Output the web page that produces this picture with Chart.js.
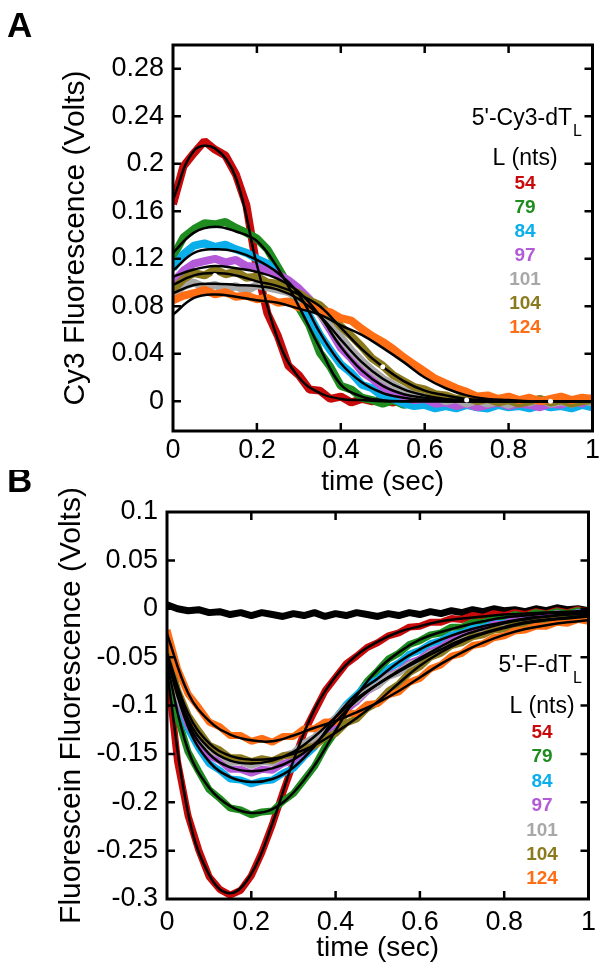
<!DOCTYPE html>
<html>
<head>
<meta charset="utf-8">
<script src="https://cdn.jsdelivr.net/npm/chart.js@4.4.0/dist/chart.umd.min.js"></script>
<style>
  body { margin: 0; background: #fff; }
  .panel { position: absolute; left: 0; width: 603px; }
  #panelA { top: 0; height: 500px; }
  #panelB { top: 470px; height: 508px; }
</style>
</head>
<body>
<div class="panel" id="panelA"><canvas id="chartA"></canvas></div>
<div class="panel" id="panelB"><canvas id="chartB"></canvas></div>
<script>
// time axes (sec)
const tData = [0, 0.025, 0.05, 0.075, 0.1, 0.125, 0.15, 0.175, 0.2, 0.225, 0.25, 0.275, 0.3, 0.325, 0.35, 0.375, 0.4, 0.425, 0.45, 0.475, 0.5,
  0.525, 0.55, 0.575, 0.6, 0.625, 0.65, 0.675, 0.7, 0.725, 0.75, 0.775, 0.8, 0.825, 0.85, 0.875, 0.9, 0.925, 0.95, 0.975, 1];
const tFit = [0, 0.05, 0.1, 0.15, 0.2, 0.25, 0.3, 0.35, 0.4, 0.45, 0.5, 0.55, 0.6, 0.65, 0.7, 0.75, 0.8, 0.85, 0.9, 0.95, 1];

const lengths = ['54', '79', '84', '97', '101', '104', '124'];
const colors = ['#c80a0a', '#1e8c1e', '#0aaeea', '#b45ad8', '#a8a8a8', '#8c7a1e', '#ff6e14'];

// panel A: 5'-Cy3-dT(L), measured traces
const cy3_54 = [0.166, 0.198, 0.209, 0.219, 0.212, 0.207, 0.191, 0.165, 0.112, 0.074, 0.055, 0.030, 0.022, 0.010, 0.009, 0.002, 0.004, -0.001, 0.002, 0.000, 0.001,
  -0.001, 0.002, 0.000, -0.002, 0.001, 0.000, -0.001, 0.002, 0.000, -0.001, 0.001, 0.000, -0.002, 0.001, 0.000, 0.001, -0.001, 0.000, 0.001, -0.001];
const cy3_79 = [0.122, 0.138, 0.145, 0.150, 0.149, 0.151, 0.146, 0.142, 0.137, 0.128, 0.113, 0.098, 0.079, 0.064, 0.041, 0.029, 0.013, 0.010, 0.003, 0.001, -0.002,
  0.001, -0.003, 0.000, -0.002, -0.004, 0.001, -0.003, -0.001, 0.000, -0.003, -0.001, -0.002, 0.000, -0.003, -0.001, 0.001, -0.002, 0.000, -0.002, -0.001];
const cy3_84 = [0.112, 0.124, 0.131, 0.133, 0.130, 0.132, 0.128, 0.125, 0.120, 0.116, 0.106, 0.100, 0.088, 0.072, 0.056, 0.043, 0.031, 0.024, 0.014, 0.011, 0.004,
  0.002, -0.002, -0.004, -0.003, -0.006, -0.004, -0.006, -0.003, -0.005, -0.006, -0.003, -0.005, -0.004, -0.006, -0.003, -0.005, -0.004, -0.006, -0.003, -0.005];
const cy3_97 = [0.100, 0.110, 0.116, 0.118, 0.120, 0.117, 0.119, 0.114, 0.113, 0.110, 0.107, 0.102, 0.095, 0.086, 0.074, 0.060, 0.045, 0.036, 0.025, 0.019, 0.012,
  0.008, 0.004, 0.001, 0.002, -0.002, -0.001, -0.004, -0.002, -0.005, -0.003, -0.001, -0.004, -0.002, -0.003, -0.005, -0.002, -0.003, 0.001, -0.002, 0.003];
const cy3_101 = [0.090, 0.097, 0.100, 0.096, 0.098, 0.094, 0.097, 0.093, 0.098, 0.096, 0.094, 0.092, 0.087, 0.081, 0.074, 0.063, 0.054, 0.043, 0.034, 0.026, 0.019,
  0.014, 0.009, 0.006, 0.003, 0.004, 0.000, 0.002, -0.002, 0.001, -0.002, 0.000, -0.003, 0.001, -0.001, 0.002, -0.002, 0.000, -0.002, 0.001, -0.001];
const cy3_104 = [0.094, 0.103, 0.108, 0.106, 0.111, 0.107, 0.109, 0.104, 0.105, 0.100, 0.099, 0.094, 0.091, 0.085, 0.081, 0.073, 0.063, 0.055, 0.046, 0.036, 0.030,
  0.022, 0.017, 0.012, 0.010, 0.006, 0.005, 0.002, 0.003, 0.000, 0.002, -0.001, 0.001, -0.002, 0.000, 0.002, -0.001, 0.001, -0.002, 0.000, 0.001];
const cy3_124 = [0.085, 0.089, 0.091, 0.094, 0.090, 0.092, 0.088, 0.089, 0.086, 0.087, 0.083, 0.084, 0.079, 0.081, 0.076, 0.075, 0.070, 0.068, 0.061, 0.055, 0.050,
  0.044, 0.037, 0.031, 0.025, 0.019, 0.015, 0.011, 0.008, 0.004, 0.005, 0.002, 0.004, 0.001, 0.003, 0.000, 0.002, 0.004, 0.001, 0.003, 0.002];

// panel A fits
const cy3Fit_54 = [0.170, 0.211, 0.213, 0.188, 0.115, 0.052, 0.020, 0.007, 0.002, 0.001, 0, 0, 0, 0, 0, 0, 0, 0, 0, 0, 0];
const cy3Fit_79 = [0.125, 0.142, 0.147, 0.143, 0.135, 0.112, 0.080, 0.045, 0.014, 0.004, 0.001, 0, 0, 0, 0, 0, 0, 0, 0, 0, 0];
const cy3Fit_84 = [0.110, 0.125, 0.128, 0.126, 0.119, 0.108, 0.090, 0.058, 0.032, 0.016, 0.007, 0.003, 0.001, 0, 0, 0, 0, 0, 0, 0, 0];
const cy3Fit_97 = [0.105, 0.111, 0.114, 0.112, 0.109, 0.103, 0.092, 0.072, 0.046, 0.026, 0.013, 0.006, 0.003, 0.001, 0, 0, 0, 0, 0, 0, 0];
const cy3Fit_101 = [0.091, 0.098, 0.099, 0.098, 0.097, 0.094, 0.086, 0.072, 0.052, 0.033, 0.019, 0.010, 0.005, 0.002, 0.001, 0, 0, 0, 0, 0, 0];
const cy3Fit_104 = [0.098, 0.106, 0.108, 0.106, 0.101, 0.097, 0.090, 0.080, 0.062, 0.044, 0.029, 0.017, 0.009, 0.005, 0.002, 0.001, 0, 0, 0, 0, 0];
const cy3Fit_124 = [0.073, 0.087, 0.090, 0.088, 0.085, 0.083, 0.078, 0.073, 0.064, 0.056, 0.045, 0.033, 0.020, 0.011, 0.005, 0.002, 0.001, 0, 0, 0, 0];

// white markers on the 104 fit
const markT = [0.1, 0.5, 0.7, 0.9];
const markV = [0.106, 0.029, 0.001, 0.000];

// panel B: 5'-F-dT(L), measured traces
const fl_54 = [-0.058, -0.158, -0.214, -0.249, -0.277, -0.290, -0.296, -0.291, -0.276, -0.252, -0.223, -0.190, -0.159, -0.128, -0.106, -0.085, -0.071, -0.057, -0.049, -0.040, -0.035,
  -0.028, -0.025, -0.019, -0.018, -0.014, -0.014, -0.010, -0.011, -0.007, -0.009, -0.005, -0.007, -0.004, -0.006, -0.003, -0.005, -0.002, -0.004, -0.001, -0.003];
const fl_79 = [-0.052, -0.112, -0.148, -0.168, -0.187, -0.196, -0.206, -0.208, -0.213, -0.210, -0.209, -0.199, -0.191, -0.177, -0.163, -0.143, -0.127, -0.107, -0.091, -0.075, -0.064,
  -0.052, -0.046, -0.037, -0.033, -0.027, -0.025, -0.019, -0.019, -0.014, -0.014, -0.010, -0.010, -0.006, -0.008, -0.004, -0.006, -0.003, -0.005, -0.002, -0.004];
const fl_84 = [-0.046, -0.095, -0.124, -0.144, -0.160, -0.167, -0.176, -0.177, -0.181, -0.178, -0.177, -0.170, -0.165, -0.153, -0.143, -0.126, -0.113, -0.099, -0.089, -0.078, -0.073,
  -0.062, -0.056, -0.047, -0.043, -0.036, -0.033, -0.027, -0.025, -0.020, -0.019, -0.015, -0.015, -0.011, -0.011, -0.008, -0.009, -0.006, -0.007, -0.004, -0.006];
const fl_97 = [-0.044, -0.091, -0.120, -0.137, -0.152, -0.157, -0.166, -0.166, -0.170, -0.166, -0.167, -0.160, -0.157, -0.147, -0.141, -0.128, -0.118, -0.104, -0.096, -0.085, -0.079,
  -0.069, -0.065, -0.056, -0.052, -0.044, -0.040, -0.032, -0.029, -0.023, -0.022, -0.016, -0.016, -0.011, -0.012, -0.008, -0.009, -0.005, -0.007, -0.004, -0.006];
const fl_101 = [-0.042, -0.089, -0.116, -0.131, -0.146, -0.150, -0.159, -0.158, -0.162, -0.158, -0.159, -0.152, -0.149, -0.139, -0.133, -0.121, -0.113, -0.101, -0.094, -0.084, -0.079,
  -0.070, -0.066, -0.058, -0.054, -0.046, -0.043, -0.036, -0.033, -0.027, -0.026, -0.021, -0.020, -0.015, -0.015, -0.011, -0.012, -0.008, -0.010, -0.006, -0.008];
const fl_104 = [-0.040, -0.084, -0.110, -0.126, -0.141, -0.146, -0.154, -0.154, -0.158, -0.155, -0.157, -0.152, -0.151, -0.144, -0.142, -0.133, -0.129, -0.118, -0.114, -0.103, -0.097,
  -0.085, -0.078, -0.066, -0.060, -0.050, -0.046, -0.038, -0.035, -0.029, -0.027, -0.022, -0.021, -0.016, -0.016, -0.012, -0.013, -0.009, -0.011, -0.007, -0.009];
const fl_124 = [-0.022, -0.062, -0.088, -0.102, -0.117, -0.122, -0.131, -0.131, -0.137, -0.134, -0.138, -0.132, -0.132, -0.124, -0.124, -0.117, -0.117, -0.109, -0.108, -0.099, -0.098,
  -0.089, -0.086, -0.076, -0.072, -0.062, -0.058, -0.049, -0.046, -0.038, -0.036, -0.030, -0.028, -0.023, -0.022, -0.018, -0.018, -0.014, -0.015, -0.011, -0.013];
const fl_control = [0.004, 0.000, -0.002, -0.001, -0.004, -0.003, -0.006, -0.004, -0.007, -0.004, -0.006, -0.008, -0.005, -0.007, -0.004, -0.008, -0.005, -0.007, -0.004, -0.006, -0.008,
  -0.005, -0.007, -0.004, -0.006, -0.003, -0.005, -0.002, -0.004, -0.001, -0.003, 0.000, -0.002, -0.001, -0.003, 0.000, -0.002, 0.001, -0.001, 0.000, -0.002];

// panel B fits
const flFit_54 = [-0.065, -0.211, -0.275, -0.294, -0.274, -0.222, -0.157, -0.104, -0.070, -0.048, -0.034, -0.024, -0.018, -0.013, -0.010, -0.008, -0.006, -0.005, -0.004, -0.003, -0.002];
const flFit_79 = [-0.058, -0.146, -0.185, -0.204, -0.211, -0.207, -0.190, -0.162, -0.126, -0.090, -0.063, -0.045, -0.032, -0.024, -0.018, -0.013, -0.009, -0.007, -0.005, -0.004, -0.003];
const flFit_84 = [-0.052, -0.122, -0.158, -0.174, -0.179, -0.176, -0.164, -0.142, -0.112, -0.088, -0.072, -0.055, -0.042, -0.032, -0.024, -0.018, -0.014, -0.010, -0.008, -0.006, -0.005];
const flFit_97 = [-0.050, -0.118, -0.150, -0.164, -0.168, -0.165, -0.156, -0.140, -0.117, -0.095, -0.078, -0.064, -0.051, -0.039, -0.028, -0.021, -0.015, -0.011, -0.008, -0.006, -0.005];
const flFit_101 = [-0.048, -0.114, -0.144, -0.157, -0.160, -0.157, -0.148, -0.132, -0.112, -0.093, -0.078, -0.065, -0.053, -0.042, -0.032, -0.025, -0.019, -0.014, -0.011, -0.009, -0.007];
const flFit_104 = [-0.046, -0.108, -0.139, -0.152, -0.156, -0.155, -0.150, -0.141, -0.128, -0.113, -0.096, -0.077, -0.059, -0.045, -0.034, -0.026, -0.020, -0.015, -0.012, -0.010, -0.008];
const flFit_124 = [-0.026, -0.087, -0.116, -0.130, -0.136, -0.137, -0.131, -0.123, -0.116, -0.107, -0.097, -0.085, -0.071, -0.057, -0.045, -0.035, -0.027, -0.021, -0.017, -0.014, -0.012];

// ticks
const xTicks = [0, 0.2, 0.4, 0.6, 0.8, 1];
const xTickLabels = ['0', '0.2', '0.4', '0.6', '0.8', '1'];
const yTicksA = [0, 0.04, 0.08, 0.12, 0.16, 0.2, 0.24, 0.28];
const yTickLabelsA = ['0', '0.04', '0.08', '0.12', '0.16', '0.2', '0.24', '0.28'];
const yTicksB = [-0.3, -0.25, -0.2, -0.15, -0.1, -0.05, 0, 0.05, 0.1];
const yTickLabelsB = ['-0.3', '-0.25', '-0.2', '-0.15', '-0.1', '-0.05', '0', '0.05', '0.1'];

const FONT = '"Liberation Sans", Arial, sans-serif';
Chart.defaults.font.family = FONT;
Chart.defaults.color = '#000';

function pts(ts, vs) {
  return ts.map((t, i) => ({ x: t, y: vs[i] }));
}

function traceSet(label, vs, color, width, order) {
  return { label: label, data: pts(tData, vs), borderColor: color, borderWidth: width,
    pointRadius: 0, tension: 0, borderJoinStyle: 'bevel', order: order };
}

function fitSet(label, vs) {
  return { label: label, data: pts(tFit, vs), borderColor: '#000', borderWidth: 2.5,
    pointRadius: 0, tension: 0.4, order: 0 };
}

// frame with inward ticks, panel letter and the colour key
const framePlugin = {
  id: 'frame',
  afterDraw(chart, args, o) {
    const { ctx, chartArea: a, scales: { x, y } } = chart;
    ctx.save();
    ctx.strokeStyle = '#000';
    ctx.lineWidth = 2.5;
    ctx.beginPath();
    x.ticks.forEach(t => {
      const px = x.getPixelForValue(t.value);
      if (px - a.left < 2 || a.right - px < 2) return;
      ctx.moveTo(px, a.bottom); ctx.lineTo(px, a.bottom - 8);
      ctx.moveTo(px, a.top); ctx.lineTo(px, a.top + 8);
    });
    y.ticks.forEach(t => {
      const py = y.getPixelForValue(t.value);
      if (py - a.top < 2 || a.bottom - py < 2) return;
      ctx.moveTo(a.left, py); ctx.lineTo(a.left + 8, py);
      ctx.moveTo(a.right, py); ctx.lineTo(a.right - 8, py);
    });
    ctx.stroke();
    ctx.lineWidth = 3;
    ctx.strokeRect(a.left, a.top, a.right - a.left, a.bottom - a.top);

    ctx.fillStyle = '#000';
    ctx.textBaseline = 'alphabetic';
    ctx.textAlign = 'left';
    ctx.font = 'bold 35px ' + FONT;
    ctx.fillText(o.letter, 7, o.letterY);

    ctx.font = '23px ' + FONT;
    ctx.textAlign = 'right';
    ctx.fillText(o.header, o.headerRight, o.headerY);
    ctx.font = '16px ' + FONT;
    ctx.textAlign = 'left';
    ctx.fillText('L', o.headerRight + 1, o.headerY + 11);
    ctx.font = '23px ' + FONT;
    ctx.textAlign = 'center';
    ctx.fillText('L (nts)', o.keyX, o.unitY);
    ctx.font = 'bold 19px ' + FONT;
    lengths.forEach((s, i) => {
      ctx.fillStyle = colors[i];
      ctx.fillText(s, o.keyX, o.firstY + i * o.stepY);
    });
    ctx.restore();
  }
};

function makeOptions(p) {
  return {
    responsive: true,
    maintainAspectRatio: false,
    animation: false,
    layout: { padding: { top: p.top, right: p.right, left: 0, bottom: 0 } },
    plugins: { legend: { display: false }, tooltip: { enabled: false }, frame: p.frame },
    scales: {
      x: {
        type: 'linear', min: 0, max: 1,
        afterBuildTicks: s => { s.ticks = xTicks.map(v => ({ value: v })); },
        afterFit: s => { s.height = p.xHeight; },
        grid: { display: false, drawTicks: false },
        border: { display: false },
        ticks: { font: { size: 27 }, padding: p.xPad, maxRotation: 0, callback: (v, i) => xTickLabels[i] },
        title: { display: true, text: 'time (sec)', font: { size: 28, lineHeight: 1 }, padding: { top: 0, bottom: p.xTitlePad } }
      },
      y: {
        type: 'linear', min: p.yMin, max: p.yMax,
        afterBuildTicks: s => { s.ticks = p.yTicks.map(v => ({ value: v })); },
        afterFit: s => { s.width = p.yWidth; },
        grid: { display: false, drawTicks: false },
        border: { display: false },
        ticks: { font: { size: 27 }, padding: 9, callback: (v, i) => p.yLabels[i] },
        title: { display: true, text: p.yTitle, font: { size: 30, lineHeight: 1 }, padding: { top: p.yTitlePad, bottom: 0 } }
      }
    }
  };
}

const cy3Traces = [cy3_54, cy3_79, cy3_84, cy3_97, cy3_101, cy3_104, cy3_124];
const cy3Fits = [cy3Fit_54, cy3Fit_79, cy3Fit_84, cy3Fit_97, cy3Fit_101, cy3Fit_104, cy3Fit_124];
const flTraces = [fl_54, fl_79, fl_84, fl_97, fl_101, fl_104, fl_124];
const flFits = [flFit_54, flFit_79, flFit_84, flFit_97, flFit_101, flFit_104, flFit_124];

const dsA = [];
cy3Traces.forEach((vs, i) => dsA.push(traceSet(lengths[i], vs, colors[i], 8, 7 - i)));
cy3Fits.forEach((vs, i) => dsA.push(fitSet('fit ' + lengths[i], vs)));
dsA.push({ label: 'marks', data: pts(markT, markV), showLine: false, pointRadius: 2.5,
  pointBackgroundColor: '#fff', pointBorderWidth: 0, order: -1 });

new Chart(document.getElementById('chartA'), {
  type: 'line',
  data: { datasets: dsA },
  options: makeOptions({
    top: 45, right: 10, xHeight: 69, yWidth: 173, xPad: 3, xTitlePad: 4,
    yMin: -0.025, yMax: 0.30, yTicks: yTicksA, yLabels: yTickLabelsA,
    yTitle: 'Cy3 Fluorescence (Volts)', yTitlePad: 61,
    frame: { letter: 'A', letterY: 37, header: "5'-Cy3-dT", headerRight: 572, headerY: 125,
      keyX: 525, unitY: 165, firstY: 189, stepY: 24 }
  }),
  plugins: [framePlugin]
});

const dsB = [];
dsB.push(traceSet('control', fl_control, '#000', 7, 9));
flTraces.forEach((vs, i) => dsB.push(traceSet(lengths[i], vs, colors[i], 7, 7 - i)));
flFits.forEach((vs, i) => dsB.push(fitSet('fit ' + lengths[i], vs)));

new Chart(document.getElementById('chartB'), {
  type: 'line',
  data: { datasets: dsB },
  options: makeOptions({
    top: 42, right: 11, xHeight: 79, yWidth: 167, xPad: 7, xTitlePad: 16,
    yMin: -0.3, yMax: 0.1, yTicks: yTicksB, yLabels: yTickLabelsB,
    yTitle: 'Fluorescein Fluorescence (Volts)', yTitlePad: 57,
    frame: { letter: 'B', letterY: 22, header: "5'-F-dT", headerRight: 572, headerY: 202,
      keyX: 542, unitY: 243, firstY: 268, stepY: 24.4 }
  }),
  plugins: [framePlugin]
});
</script>
</body>
</html>
